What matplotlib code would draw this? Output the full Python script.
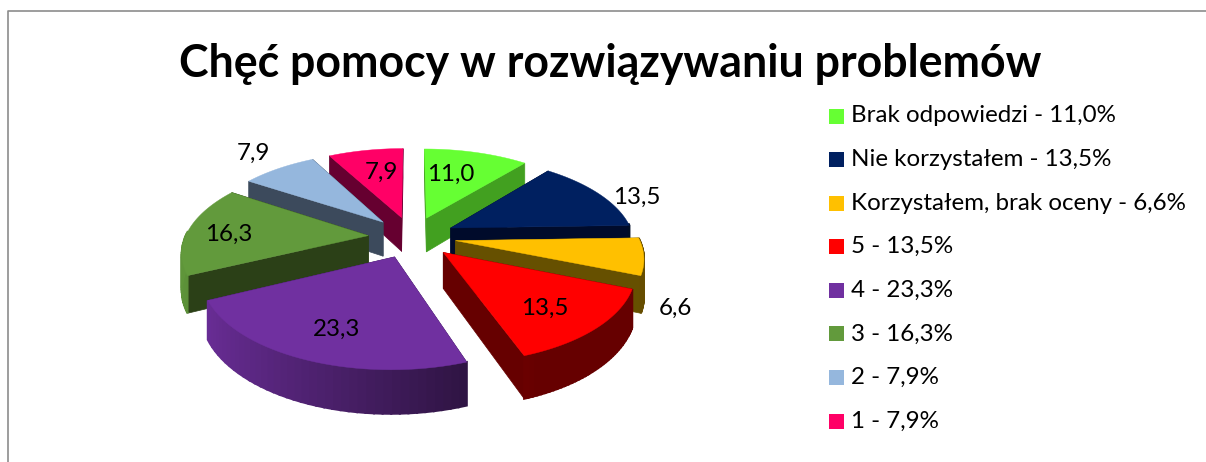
import matplotlib
matplotlib.use('Agg')
import matplotlib.pyplot as plt
import numpy as np
from matplotlib.patches import Polygon, Rectangle

categories = ['Brak odpowiedzi', 'Nie korzystałem', 'Korzystałem, brak oceny', '5', '4', '3', '2', '1']
values = [11.0, 13.5, 6.6, 13.5, 23.3, 16.3, 7.9, 7.9]
top_colors = ['#66FF33', '#002060', '#FFC000', '#FF0000', '#7030A0', '#629A3C', '#95B7DD', '#FF0066']
wall_colors = ['#42A020', '#000B2B', '#665000', '#660000', '#3A1A58', '#2B4017', '#3C4A5C', '#660030']
draw_order = [7, 0, 6, 1, 2, 5, 3, 4]

label_x = [451, 637, 675, 545, 337, 229, 253, 381]
label_y = [174, 197, 308, 308, 329, 234, 153, 172]

cx, cy = 412, 237
rx, ry = 183, 86.5
persp = 0.167
explode = 0.24
depth = 35

plt.rcParams['font.family'] = ['Lato', 'DejaVu Sans']


def project(X, Y):
    s = 1 / (1 - persp * Y)
    return cx + rx * X * s, cy + ry * Y * s, s


def shade(color, f):
    rgb = np.array(matplotlib.colors.to_rgb(color))
    return tuple(rgb * f)


def draw_slice(ax, start, end, top, wall):
    mid = (start + end) / 2
    ox, oy = explode * np.sin(mid), -explode * np.cos(mid)
    t = np.linspace(start, end, 40)
    X = ox + np.sin(t)
    Y = oy - np.cos(t)
    px, py, s = project(X, Y)
    tx, ty, ts = project(np.array(ox), np.array(oy))

    # side faces running from the tip to both ends of the arc
    for i in [0, -1]:
        quad = [(tx, ty), (px[i], py[i]), (px[i], py[i] + depth * s[i]), (tx, ty + depth * ts)]
        ax.add_patch(Polygon(quad, closed=True, fc=wall, ec=wall, lw=0.5))

    # outer wall, only the part facing the viewer
    for i in range(len(t) - 1):
        if -np.cos(t[i]) < -0.05 and -np.cos(t[i + 1]) < -0.05:
            continue
        f = np.clip(0.56 - 0.41 * np.sin(t[i]), 0.4, 1.0)
        quad = [(px[i], py[i]), (px[i + 1], py[i + 1]),
                (px[i + 1], py[i + 1] + depth * s[i + 1]), (px[i], py[i] + depth * s[i])]
        c = shade(top, f)
        ax.add_patch(Polygon(quad, closed=True, fc=c, ec=c, lw=1.5))

    outline = [(tx, ty)] + list(zip(px, py))
    ax.add_patch(Polygon(outline, closed=True, fc=top, ec=top, lw=0.3))


fig = plt.figure(figsize=(12.06, 4.62), dpi=100)
ax = fig.add_axes([0, 0, 1, 1])
ax.set_xlim(0, 1206)
ax.set_ylim(462, 0)
ax.axis('off')

# chart frame, only left and top are in the crop
ax.plot([7.5, 7.5, 1206], [462, 10.5, 10.5], color='#8C8C8C', lw=1.2)

ax.text(610, 64, 'Chęć pomocy w rozwiązywaniu problemów', fontsize=32.1, fontweight='bold',
        ha='center', va='center', color='black')

edges = np.concatenate([[0], np.cumsum(values)]) / np.sum(values) * 2 * np.pi
for i in draw_order:
    draw_slice(ax, edges[i], edges[i + 1], top_colors[i], wall_colors[i])

for i in range(len(values)):
    ax.text(label_x[i], label_y[i], f'{values[i]:.1f}'.replace('.', ','), fontsize=17.4,
            ha='center', va='center', color='black')

legend_y = np.linspace(116, 421, len(categories))
for i in range(len(categories)):
    ax.add_patch(Rectangle((829, legend_y[i] - 7.5), 15, 15, fc=top_colors[i], ec='none'))
    label = f'{categories[i]} - {values[i]:.1f}%'.replace('.', ',')
    ax.text(851, legend_y[i], label, fontsize=17.4, ha='left', va='center', color='black')

fig.savefig('out.png', dpi=100)
